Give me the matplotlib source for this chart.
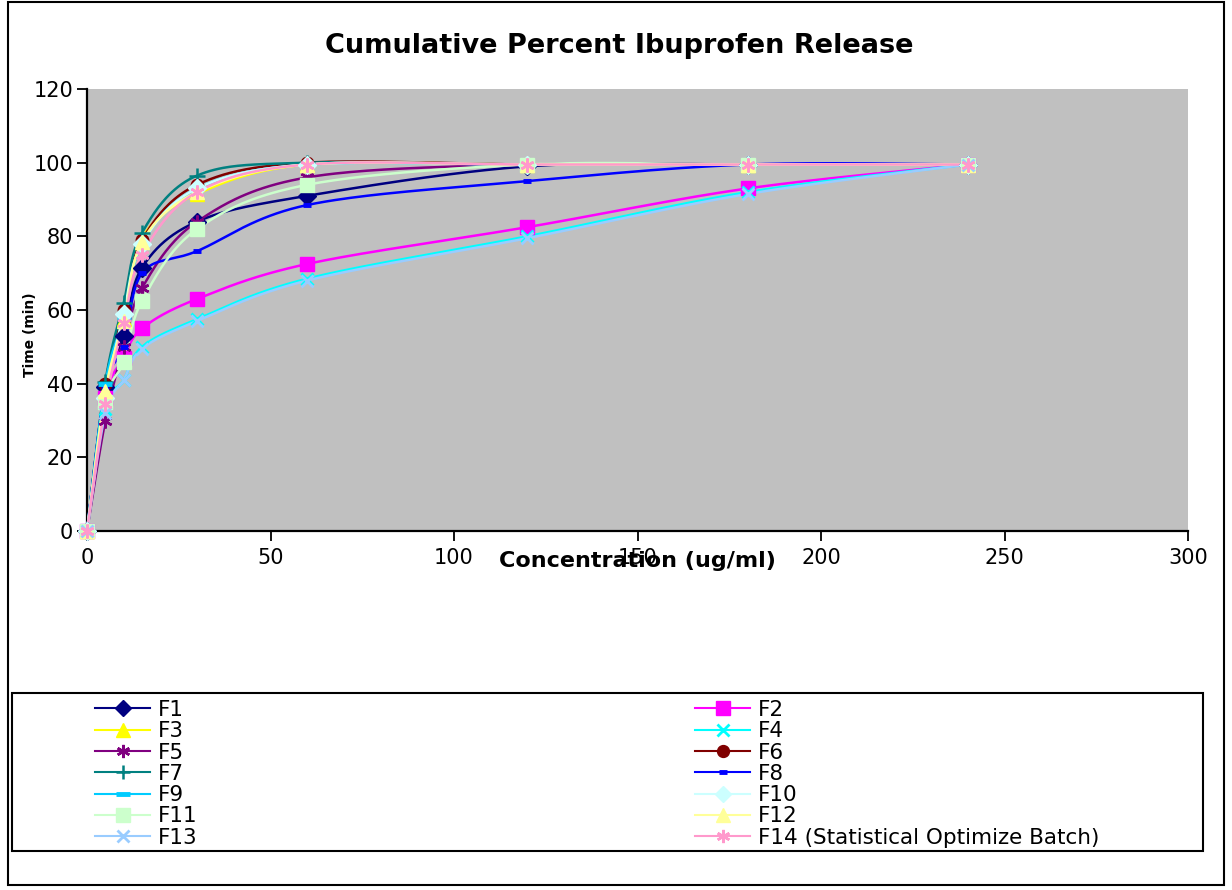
import numpy as np
import matplotlib
matplotlib.use("Agg")
import matplotlib.pyplot as plt
from matplotlib.lines import Line2D
from matplotlib.patches import Rectangle

# ---------------- data ----------------
time_points = [0, 5, 10, 15, 30, 60, 120, 180, 240]
series_names = ["F1", "F2", "F3", "F4", "F5", "F6", "F7", "F8", "F9", "F10",
                "F11", "F12", "F13", "F14 (Statistical Optimize Batch)"]
F1 = [0, 39, 53, 71.5, 84, 91, 99, 99.5, 99.5]
F2 = [0, 36, 47, 55, 63, 72.5, 82.5, 93, 99.5]
F3 = [0, 38, 57.5, 79.5, 91.5, 99.5, 99.5, 99.5, 99.5]
F4 = [0, 33, 41, 50, 57.5, 68.5, 80, 92, 99.5]
F5 = [0, 30, 50, 66, 84, 96, 99.5, 99.5, 99.5]
F6 = [0, 40, 60, 79, 94, 100, 99.5, 99.5, 99.5]
F7 = [0, 40.5, 62, 81, 96.5, 100, 99.5, 99.5, 99.5]
F8 = [0, 39, 50, 70, 76, 88.5, 95, 99.5, 99.5]
F9 = [0, 40, 58, 78, 93, 99.5, 99.5, 99.5, 99.5]
F10 = [0, 36, 59, 78, 93, 99.5, 99.5, 99.5, 99.5]
F11 = [0, 35, 46, 62.5, 82, 94, 99.5, 99.5, 99.5]
F12 = [0, 38, 57, 78.5, 92, 99.5, 99.5, 99.5, 99.5]
F13 = [0, 32, 41, 49.5, 57, 68, 79.5, 91.5, 99.5]
F14 = [0, 34.5, 56.5, 75, 92, 99.5, 99.5, 99.5, 99.5]
all_series = [F1, F2, F3, F4, F5, F6, F7, F8, F9, F10, F11, F12, F13, F14]
x_ticks = [0, 50, 100, 150, 200, 250, 300]
y_ticks = [0, 20, 40, 60, 80, 100, 120]

colors = ["#000080", "#FF00FF", "#FFFF00", "#00FFFF", "#800080", "#800000",
          "#008080", "#0000FF", "#00CCFF", "#CCFFFF", "#CCFFCC", "#FFFF99",
          "#99CCFF", "#FF99CC"]
markers = ["D", "s", "^", "x", (6, 2, 0), "o", "+", "_", "_", "D", "s", "^",
           "x", (6, 2, 0)]
msizes = [9, 10, 10, 9, 10, 9, 11, 6, 10, 9, 10, 10, 9, 10]
mews = [1, 1, 1, 2, 1.8, 1, 1.8, 3.5, 3.5, 1, 1, 1, 2, 1.8]

W, H = 1232, 890
fig = plt.figure(figsize=(W / 100, H / 100), dpi=100)
plt.rcParams['font.family'] = ['DejaVu Sans']


def fx(px):
    return px / W


def fy(py):
    return 1 - py / H


ax = fig.add_axes([fx(87), fy(531), fx(1188) - fx(87), fy(89) - fy(531)])
ax.set_facecolor("#C0C0C0")
ax.set_xlim(0, 300)
ax.set_ylim(0, 120)


def smooth(xs, ys, n=40):
    P = np.column_stack([xs, ys]).astype(float)
    out = [P[0]]
    m = len(P)
    for i in range(m - 1):
        p0 = P[i - 1] if i > 0 else P[i]
        p1 = P[i]
        p2 = P[i + 1]
        p3 = P[i + 2] if i + 2 < m else P[i + 1]
        c1 = p1 + (p2 - p0) / 6.0
        c2 = p2 - (p3 - p1) / 6.0
        t = np.linspace(0, 1, n)[1:, None]
        seg = ((1 - t) ** 3) * p1 + 3 * ((1 - t) ** 2) * t * c1 + \
            3 * (1 - t) * t ** 2 * c2 + t ** 3 * p2
        out.extend(seg)
    out = np.array(out)
    return out[:, 0], out[:, 1]


handles = []
for vals, c, mk, ms, mew, name in zip(all_series, colors, markers, msizes, mews,
                                      series_names):
    sx, sy = smooth(time_points, vals)
    ax.plot(sx, sy, color=c, lw=1.8, solid_capstyle="round", clip_on=False, zorder=3)
    ax.plot(time_points, vals, linestyle="none", marker=mk, markersize=ms,
            markerfacecolor=c, markeredgecolor=c, markeredgewidth=mew,
            clip_on=False, zorder=4)
    handles.append(Line2D([], [], color=c, lw=1.5, marker=mk, markersize=ms * 0.95,
                          markerfacecolor=c, markeredgecolor=c,
                          markeredgewidth=mew))

ax.set_xticks(x_ticks)
ax.set_yticks(y_ticks)
ax.set_xticklabels([str(v) for v in x_ticks])
ax.set_yticklabels([str(v) for v in y_ticks])
ax.tick_params(axis="both", direction="out", length=7, width=1.3,
               labelsize=15, colors="black")
ax.tick_params(axis="x", pad=5)
ax.tick_params(axis="y", pad=3)
for s in ["left", "bottom"]:
    ax.spines[s].set_linewidth(1.6)
    ax.spines[s].set_color("black")
for s in ["top", "right"]:
    ax.spines[s].set_visible(False)

# title and axis labels
fig.text(fx(619), fy(46), "Cumulative Percent Ibuprofen Release",
         ha="center", va="center", fontsize=19.5, fontweight="bold")
fig.text(fx(637), fy(561), "Concentration (ug/ml)", ha="center", va="center",
         fontsize=16, fontweight="bold")
fig.text(fx(30), fy(335), "Time (min)", ha="center", va="center",
         rotation=90, fontsize=10, fontweight="bold")

# outer border
fig.patches.append(Rectangle((fx(8), fy(885)), fx(1224) - fx(8), fy(2) - fy(885),
                             transform=fig.transFigure, fill=False,
                             edgecolor="black", lw=1.5))
# legend frame
fig.patches.append(Rectangle((fx(12), fy(851)), fx(1203) - fx(12), fy(693) - fy(851),
                             transform=fig.transFigure, fill=False,
                             edgecolor="black", lw=1.5))

left_idx = [0, 2, 4, 6, 8, 10, 12]
right_idx = [1, 3, 5, 7, 9, 11, 13]
fs = 15.5
for idx, x0 in [(left_idx, 95), (right_idx, 695)]:
    leg = fig.legend([handles[i] for i in idx], [series_names[i] for i in idx],
                     loc="upper left", bbox_to_anchor=(fx(x0), fy(700)),
                     bbox_transform=fig.transFigure, frameon=False,
                     fontsize=fs, handlelength=55 / (fs * 100 / 72),
                     handletextpad=0.35, labelspacing=0.06, borderpad=0,
                     borderaxespad=0, numpoints=1)

fig.savefig("out.png", dpi=100)
